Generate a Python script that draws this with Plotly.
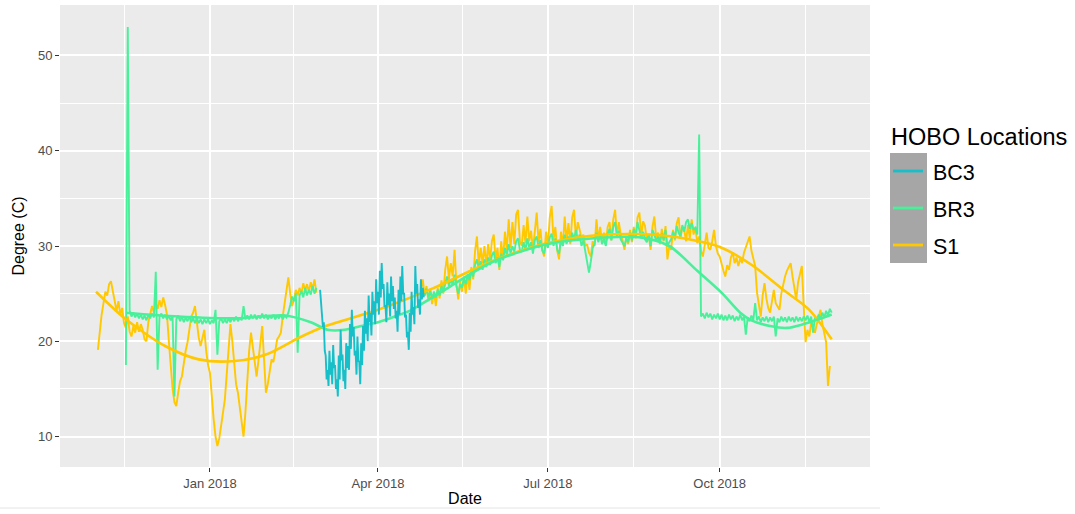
import pandas as pd
import plotly.graph_objects as go

# ---------------- data (readings) ----------------
s1_start_1 = "2017-11-02"
s1_vals_1 = [
    19.1, 21.0, 22.8, 24.0, 25.2, 24.8, 26.0, 26.3, 25.2, 24.0,
    23.2, 24.2, 22.8, 23.5, 21.9, 21.4, 22.6, 21.0, 20.5, 21.6,
    20.9, 22.0, 21.0, 21.8, 21.2, 20.2, 20.0, 22.0, 22.8, 23.7,
    23.0, 24.0, 23.4, 24.3, 23.6, 24.6, 23.8, 22.8, 20.0, 17.2,
    15.0, 13.6, 13.2, 14.6, 15.8, 16.3, 17.8, 19.0, 19.9, 21.2,
    22.6, 23.0, 23.7, 22.0, 20.4, 19.5, 20.5, 21.2, 19.0, 17.5,
    16.7, 14.0, 11.8, 10.0, 9.0, 9.8, 11.0, 12.5, 13.9, 16.5,
    19.5, 21.8, 20.0, 17.5, 15.5, 14.6, 13.0, 11.5, 10.0, 12.5,
    16.0, 19.0, 20.9, 19.5, 17.8, 16.3, 18.0, 20.0, 21.6, 18.0,
    14.6, 15.5, 16.8, 18.1, 17.8, 19.0, 20.2, 20.5, 20.9, 22.6,
    24.0, 25.5, 26.7, 25.0, 23.7, 24.4, 25.4, 24.8, 25.6, 25.0,
    26.1, 25.3, 26.0, 25.2, 26.2, 25.5, 26.5, 25.1,
]
s1_start_2 = "2018-04-24"
s1_vals_2 = [
    25.5, 26.5, 24.8, 25.8, 24.2, 25.5, 23.9, 25.2, 23.7, 25.6,
    24.5, 26.4, 25.0, 27.5, 28.9, 26.5, 28.2, 26.8, 29.6, 26.0,
    24.4, 26.3, 25.2, 26.8, 25.0, 27.0, 25.4, 27.8, 26.5, 29.5,
    31.0, 28.0, 29.8, 28.2, 30.0, 28.0, 30.2, 28.4, 30.5, 31.2,
    28.5, 29.8, 27.5, 30.5, 28.6, 31.5, 29.5, 32.8, 29.8, 32.5,
    30.2, 33.3, 33.8, 30.5, 30.0, 32.2, 30.3, 33.1, 30.5, 31.6,
    29.6, 32.0, 33.5, 30.4, 31.8, 29.6, 28.9, 31.5, 30.0, 33.0,
    34.2, 30.6, 32.0, 29.5, 28.6, 31.5, 30.0, 33.1, 30.5, 32.4,
    30.2, 33.0, 33.8, 30.8, 32.5, 31.7, 30.8, 31.2, 30.0, 30.2,
    29.3, 28.9, 30.5, 30.0, 32.8, 30.6, 32.0, 30.4, 31.4, 30.2,
    32.0, 32.5, 30.6, 32.8, 33.8, 31.0, 32.5, 31.2, 30.6, 29.6,
    31.0, 30.2, 31.7, 30.4, 32.0, 30.8, 33.0, 33.5, 31.0, 32.6,
    32.1, 30.5, 31.2, 29.6, 32.0, 33.1, 30.8, 31.4, 30.2, 31.8,
    30.5, 32.1, 28.6, 30.0, 29.6, 31.7, 30.6, 32.4, 33.0, 30.8,
    32.0, 31.7, 30.5, 32.2, 30.8, 32.8, 31.2, 32.0, 30.3, 31.0,
    29.5, 28.9, 30.2, 31.4, 29.8, 29.6, 30.5, 31.7, 30.0, 29.2,
    28.9, 28.0, 27.4, 26.8, 28.0, 27.5, 28.8, 29.3, 28.2, 28.8,
    27.9, 28.7, 28.2, 29.3, 29.8, 30.4, 31.0, 29.5, 28.6, 27.9,
    25.1, 24.0, 22.6, 24.8, 26.1, 24.5, 23.5, 23.0, 24.5, 25.4,
    24.0, 23.6, 23.3, 25.0, 26.0, 26.8, 27.4, 27.8, 28.2, 26.8,
    25.4, 24.4, 26.2, 27.2, 27.9, 23.7, 19.9, 21.2, 20.5, 22.0,
    21.5, 20.9, 21.8, 22.6, 23.3, 21.8, 20.9, 19.9, 15.3, 17.4,
]

br3_start_1 = "2017-11-17"
br3_vals_1 = [
    17.5, 53.0, 23.2, 22.6, 23.0, 22.5, 22.9, 22.4, 22.8, 22.3,
    22.7, 22.2, 22.8, 22.4, 22.9, 22.5, 27.3, 17.0, 22.6, 22.9,
    22.4, 22.8, 22.3, 22.7, 22.2, 22.6, 14.2, 22.3, 22.7, 22.1,
    22.6, 22.0, 22.5, 22.1, 22.6, 22.0, 22.4, 21.9, 22.4, 21.9,
    22.3, 21.8, 22.3, 21.9, 22.3, 21.8, 22.2, 21.9, 23.3, 18.6,
    22.1, 22.4, 21.9, 22.3, 21.9, 22.4, 22.0, 22.5, 22.1, 22.6,
    22.1, 22.5, 22.2, 23.7, 22.3, 22.7, 22.3, 22.8, 22.4, 22.8,
    22.3, 22.7, 22.4, 22.9, 22.4, 22.8, 22.3, 22.7, 22.4, 22.8,
    22.3, 22.7, 22.4, 22.8, 22.3, 22.7, 22.5, 23.0, 23.8, 24.7,
    24.2, 25.0, 18.8, 24.8, 25.3, 24.6, 25.6, 24.8, 25.4, 24.9,
    25.8, 25.0, 25.6,
]
br3_start_2 = "2018-04-24"
br3_vals_2 = [
    25.0, 25.4, 24.8, 25.5, 24.6, 25.3, 24.5, 25.2, 24.6, 25.4,
    24.8, 25.8, 25.2, 26.2, 26.8, 25.8, 26.5, 25.9, 27.0, 25.8,
    25.0, 26.0, 25.6, 26.6, 26.0, 27.0, 26.4, 27.5, 26.8, 28.0,
    28.6, 27.6, 28.4, 27.5, 28.6, 27.8, 28.8, 28.0, 29.0, 29.4,
    28.2, 28.8, 27.8, 29.2, 28.5, 29.8, 29.0, 30.2, 29.2, 30.0,
    29.4, 30.5, 30.8, 29.6, 29.4, 30.4, 29.6, 30.8, 29.8, 30.4,
    29.2, 30.6, 31.0, 29.8, 30.6, 29.5, 29.2, 30.4, 29.8, 30.9,
    31.3, 30.0, 30.8, 29.6, 29.2, 30.6, 30.0, 31.2, 30.2, 31.0,
    30.4, 31.4, 30.7, 31.7, 30.6, 31.2, 30.0, 30.6, 29.5, 28.6,
    27.2, 28.4, 29.8, 30.2, 31.4, 30.4, 31.2, 30.2, 30.7, 30.0,
    31.2, 31.8, 30.6, 32.0, 32.5, 31.0, 31.6, 30.7, 30.3, 30.0,
    30.8, 30.4, 31.4, 30.6, 31.8, 31.0, 32.5, 31.6, 30.8, 31.5,
    30.7, 30.4, 31.2, 30.0, 31.7, 31.2, 30.5, 31.0, 30.4, 31.3,
    30.6, 31.7, 30.0, 30.4, 30.7, 31.5, 30.8, 32.1, 31.4, 31.0,
    32.2, 31.5, 32.5, 32.8, 31.8, 32.4, 31.7, 31.9, 31.2, 41.7,
    22.6, 22.9, 22.4, 23.0, 22.5, 22.9, 22.3, 22.8, 22.4, 22.9,
    22.3, 22.8, 22.2, 22.7, 22.2, 22.8, 22.3, 22.7, 22.1, 22.6,
    22.2, 22.8, 22.2, 22.6, 20.7, 22.5, 22.1, 22.7, 22.2, 24.0,
    22.2, 22.6, 22.0, 22.5, 22.1, 22.6, 22.0, 22.5, 22.1, 22.6,
    20.5, 22.4, 22.0, 22.6, 22.1, 22.5, 22.0, 22.6, 22.1, 22.5,
    22.0, 22.6, 22.1, 22.5, 22.1, 22.6, 22.2, 22.7, 22.0, 22.6,
    20.9, 22.5, 22.2, 22.8, 22.4, 23.0, 22.5, 23.2, 22.7, 23.4, 23.0,
]

# BC3: twice-daily readings (day / night)
bc3_start = "2018-03-01"
bc3_vals = [
    25.4, 24.0, 23.0, 21.5, 22.0, 19.0, 18.5, 16.0, 17.0, 15.3,
    19.0, 16.5, 17.8, 15.5, 19.6, 17.2, 17.5, 15.0, 16.0, 14.2,
    18.5, 16.0, 21.2, 18.0, 18.6, 15.8, 17.0, 15.0, 19.8, 17.2,
    19.5, 17.0, 21.8, 19.2, 23.3, 20.5, 21.5, 18.5, 19.0, 16.5,
    20.5, 18.0, 17.8, 15.5, 19.8, 17.5, 21.6, 19.0, 23.2, 20.8,
    22.4, 20.0, 24.8, 22.0, 23.0, 20.6, 25.2, 22.8, 24.2, 21.8,
    26.5, 24.0, 25.2, 22.8, 27.4, 24.6, 28.2, 25.5, 26.0, 23.6,
    23.8, 22.0, 26.2, 23.8, 25.0, 22.6, 26.8, 24.2, 25.8, 23.4,
    24.6, 22.4, 23.2, 21.0, 25.4, 22.8, 26.8, 24.2, 27.9, 25.0,
    25.0, 22.5, 22.8, 20.4, 21.0, 19.1, 23.0, 21.0, 25.2, 22.8,
    23.6, 21.8, 27.9, 25.0, 26.0, 23.5, 24.4, 22.8, 26.5, 24.4,
    25.6, 24.6,
]

# smoothed trend curves
s1_smooth_dates = ["2017-11-01", "2017-11-17", "2017-12-08", "2017-12-26", "2018-01-13",
                   "2018-01-31", "2018-02-18", "2018-03-04", "2018-04-01", "2018-05-01",
                   "2018-06-01", "2018-07-01", "2018-08-01", "2018-09-01", "2018-10-01",
                   "2018-10-19", "2018-11-04", "2018-11-18", "2018-11-30"]
s1_smooth_vals = [25.2, 22.3, 19.5, 18.1, 17.9, 18.6, 20.4, 21.6, 23.3, 25.6,
                  28.4, 30.3, 31.2, 31.1, 29.9, 27.9, 25.4, 23.3, 20.2]

br3_smooth_dates = ["2017-11-17", "2017-12-15", "2018-01-15", "2018-02-10", "2018-02-24",
                    "2018-03-05", "2018-03-14", "2018-03-23", "2018-04-01", "2018-04-10",
                    "2018-04-19", "2018-05-10", "2018-06-01", "2018-07-01", "2018-08-01",
                    "2018-08-20", "2018-09-04", "2018-09-19", "2018-10-02", "2018-10-12",
                    "2018-10-18", "2018-10-28", "2018-11-06", "2018-11-15", "2018-11-23",
                    "2018-11-30"]
br3_smooth_vals = [23.0, 22.6, 22.4, 22.7, 22.0, 21.2, 21.2, 21.6, 22.0, 22.6,
                   23.3, 25.8, 28.3, 30.2, 30.9, 30.9, 30.0, 27.4, 25.1, 23.0,
                   22.2, 21.6, 21.4, 21.8, 22.3, 22.8]

locations = ["BC3", "BR3", "S1"]
colors = {"BC3": "#17BFC9", "BR3": "#48F09A", "S1": "#FFC800"}

x_tick_dates = ["2018-01-01", "2018-04-01", "2018-07-01", "2018-10-01"]
x_tick_labels = ["Jan 2018", "Apr 2018", "Jul 2018", "Oct 2018"]
x_minor_dates = ["2017-11-16", "2018-02-15", "2018-05-16", "2018-08-16", "2018-11-16"]
y_ticks = [10, 20, 30, 40, 50]
y_minor = [15, 25, 35, 45]


def build(parts, freq="D"):
    xs, ys = [], []
    for start, vals in parts:
        d = pd.date_range(start, periods=len(vals), freq=freq)
        if xs:
            xs.append(d[0] - pd.Timedelta(hours=12))
            ys.append(None)
        xs.extend(list(d))
        ys.extend(vals)
    return xs, ys


raw = {
    "BC3": build([(bc3_start, bc3_vals)], freq="12h"),
    "BR3": build([(br3_start_1, br3_vals_1), (br3_start_2, br3_vals_2)]),
    "S1": build([(s1_start_1, s1_vals_1), (s1_start_2, s1_vals_2)]),
}
smooth = {
    "BR3": (br3_smooth_dates, br3_smooth_vals),
    "S1": (s1_smooth_dates, s1_smooth_vals),
}


def raw_trace(loc):
    x, y = raw[loc]
    return go.Scatter(x=x, y=y, mode="lines", name=loc,
                      line=dict(color=colors[loc], width=1.9),
                      connectgaps=False, showlegend=False)


def smooth_trace(loc):
    x, y = smooth[loc]
    return go.Scatter(x=x, y=y, mode="lines", name=loc + " trend",
                      line=dict(color=colors[loc], width=2.6, shape="spline", smoothing=0.8),
                      showlegend=False)


fig = go.Figure()
fig.add_trace(raw_trace("S1"))
fig.add_trace(raw_trace("BR3"))
fig.add_trace(smooth_trace("S1"))
fig.add_trace(smooth_trace("BR3"))
fig.add_trace(raw_trace("BC3"))

# ---------------- layout ----------------
W, H = 1075, 514
L, R, T, B = 60, 205, 5, 47
pw, ph = W - L - R, H - T - B


def px(xp):
    return (xp - L) / pw


def py(yp):
    return (H - B - yp) / ph


FONT = "Liberation Sans, Arial, sans-serif"

shapes = []
annotations = []
# legend key background
shapes.append(dict(type="rect", xref="paper", yref="paper", x0=px(890), x1=px(927),
                   y0=py(263), y1=py(153), fillcolor="#A6A6A6", line=dict(width=0), layer="above"))
key_y = [171, 208, 245]
for loc, yy in zip(locations, key_y):
    shapes.append(dict(type="line", xref="paper", yref="paper", x0=px(893), x1=px(923),
                       y0=py(yy), y1=py(yy), line=dict(color=colors[loc], width=2.8), layer="above"))
    annotations.append(dict(text=loc, xref="paper", yref="paper", x=px(931), y=py(yy + 2),
                            xanchor="left", yanchor="middle", showarrow=False,
                            font=dict(family=FONT, size=21.5, color="#000000")))
annotations.append(dict(text="HOBO Locations", xref="paper", yref="paper", x=px(889), y=py(137),
                        xanchor="left", yanchor="middle", showarrow=False,
                        font=dict(family=FONT, size=23.5, color="#000000")))
# faint bottom border line
shapes.append(dict(type="line", xref="paper", yref="paper", x0=px(0), x1=px(880),
                   y0=py(508), y1=py(508), line=dict(color="#E4E4E4", width=1)))

fig.update_layout(
    width=W, height=H,
    margin=dict(l=L, r=R, t=T, b=B),
    paper_bgcolor="white", plot_bgcolor="#EBEBEB",
    showlegend=False,
    font=dict(family=FONT, color="#000000"),
    shapes=shapes, annotations=annotations,
)
fig.update_xaxes(
    type="date",
    range=["2017-10-12 17:00", "2018-12-20 12:00"],
    tickmode="array", tickvals=x_tick_dates, ticktext=x_tick_labels,
    tickfont=dict(family=FONT, size=13, color="#4D4D4D"),
    ticks="outside", ticklen=4, tickwidth=1, tickcolor="#333333",
    showgrid=True, gridcolor="white", gridwidth=1.6,
    minor=dict(tickmode="array", tickvals=x_minor_dates, showgrid=True,
               gridcolor="white", gridwidth=0.8, ticks=""),
    zeroline=False, showline=False, automargin=False,
    title=dict(text="Date", font=dict(family=FONT, size=16, color="#000000"), standoff=3),
)
fig.update_yaxes(
    range=[6.8, 55.3],
    tickmode="array", tickvals=y_ticks,
    tickfont=dict(family=FONT, size=13, color="#4D4D4D"),
    ticks="outside", ticklen=4, tickwidth=1, tickcolor="#333333",
    showgrid=True, gridcolor="white", gridwidth=1.6,
    minor=dict(tickmode="array", tickvals=y_minor, showgrid=True,
               gridcolor="white", gridwidth=0.8, ticks=""),
    zeroline=False, showline=False, automargin=False,
    title=dict(text="Degree (C)", font=dict(family=FONT, size=16, color="#000000"), standoff=9),
)

fig.write_html("out.html", config={"displayModeBar": False},
               post_script="document.body.style.margin='0';")
